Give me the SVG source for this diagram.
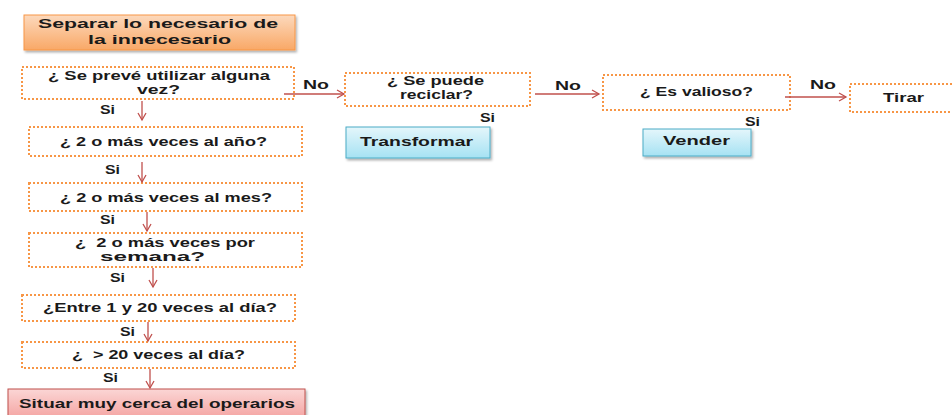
<svg xmlns="http://www.w3.org/2000/svg" width="952" height="415" viewBox="0 0 952 415">
<defs>
<linearGradient id="gOr" x1="0" y1="0" x2="0" y2="1"><stop offset="0" stop-color="#fcd9bd"/><stop offset="1" stop-color="#f9a866"/></linearGradient>
<linearGradient id="gBl" x1="0" y1="0" x2="0" y2="1"><stop offset="0" stop-color="#e4f6fb"/><stop offset="1" stop-color="#a6e2f3"/></linearGradient>
<linearGradient id="gPk" x1="0" y1="0" x2="0" y2="1"><stop offset="0" stop-color="#fbd6d5"/><stop offset="1" stop-color="#f4a3a1"/></linearGradient>
<marker id="ah" markerWidth="10" markerHeight="10" refX="8" refY="5" orient="auto" markerUnits="userSpaceOnUse"><path d="M1,1 L8,5 L1,9" fill="none" stroke="#c0504d" stroke-width="1.3"/></marker>
<filter id="sh" x="-5%" y="-10%" width="115%" height="130%"><feDropShadow dx="1.5" dy="2" stdDeviation="1.2" flood-color="#000" flood-opacity="0.3"/></filter>
</defs>
<style>
.q{fill:#fff;stroke:#f79646;stroke-width:2;stroke-dasharray:2 2}
.t{font-family:"Liberation Sans",Arial,sans-serif;font-weight:bold;font-size:13px;fill:#1a1a1a}
.t2{font-size:12px}
.pre{white-space:pre}
.l{font-family:"Liberation Sans",Arial,sans-serif;font-weight:bold;font-size:12px;fill:#1a1a1a}
.c{stroke:#c0504d;stroke-width:1.3;fill:none;marker-end:url(#ah)}
</style>
<rect width="952" height="415" fill="#fff"/>
<g id="n-title"><rect x="24" y="15" width="271" height="35" fill="url(#gOr)" stroke="#f79646" stroke-width="1" filter="url(#sh)"/><text class="t" style="font-size:13.5px" x="38" y="28" textLength="240" lengthAdjust="spacingAndGlyphs">Separar lo necesario de</text><text class="t" style="font-size:13.5px" x="88" y="44" textLength="143" lengthAdjust="spacingAndGlyphs">la innecesario</text></g>
<g id="n-preve"><rect class="q" x="22" y="67" width="272" height="32"/><text class="t t2" x="48" y="80" textLength="222" lengthAdjust="spacingAndGlyphs">¿ Se prevé utilizar alguna</text><text class="t t2" x="137" y="94" textLength="43" lengthAdjust="spacingAndGlyphs">vez?</text></g>
<g id="n-ano"><rect class="q" x="29" y="127" width="273" height="29"/><text class="t" x="60" y="146" textLength="207" lengthAdjust="spacingAndGlyphs">¿ 2 o más veces al año?</text></g>
<g id="n-mes"><rect class="q" x="29" y="183" width="273" height="28"/><text class="t" x="60" y="202" textLength="212" lengthAdjust="spacingAndGlyphs">¿ 2 o más veces al mes?</text></g>
<g id="n-semana"><rect class="q" x="29" y="233" width="273" height="34"/><text class="t t2 pre" x="75" y="247" textLength="180" lengthAdjust="spacingAndGlyphs">¿  2 o más veces por</text><text class="t t2" x="100" y="261" textLength="105" lengthAdjust="spacingAndGlyphs">semana?</text></g>
<g id="n-dia"><rect class="q" x="22" y="295" width="273" height="26"/><text class="t" x="43" y="312" textLength="234" lengthAdjust="spacingAndGlyphs">¿Entre 1 y 20 veces al día?</text></g>
<g id="n-mas20"><rect class="q" x="22" y="342" width="273" height="26"/><text class="t pre" x="72" y="359" textLength="173" lengthAdjust="spacingAndGlyphs">¿  &gt; 20 veces al día?</text></g>
<g id="n-situar"><rect x="8" y="389" width="297" height="30" fill="url(#gPk)" stroke="#c0504d" stroke-width="1" filter="url(#sh)"/><text class="t" x="19" y="408" textLength="276" lengthAdjust="spacingAndGlyphs">Situar muy cerca del operarios</text></g>
<g id="n-reciclar"><rect class="q" x="345" y="73" width="185" height="33"/><text class="t t2" x="387" y="85" textLength="97" lengthAdjust="spacingAndGlyphs">¿ Se puede</text><text class="t t2" x="400" y="99" textLength="73" lengthAdjust="spacingAndGlyphs">reciclar?</text></g>
<g id="n-valioso"><rect class="q" x="603" y="75" width="187" height="35"/><text class="t" x="640" y="96" textLength="113" lengthAdjust="spacingAndGlyphs">¿ Es valioso?</text></g>
<g id="n-tirar"><rect class="q" x="850" y="84" width="110" height="28"/><text class="t" x="883" y="102" textLength="41" lengthAdjust="spacingAndGlyphs">Tirar</text></g>
<g id="n-transformar"><rect x="346" y="127" width="144" height="31" fill="url(#gBl)" stroke="#4bacc6" stroke-width="1" filter="url(#sh)"/><text class="t" x="360" y="146" textLength="113" lengthAdjust="spacingAndGlyphs">Transformar</text></g>
<g id="n-vender"><rect x="643" y="129" width="108" height="27" fill="url(#gBl)" stroke="#4bacc6" stroke-width="1" filter="url(#sh)"/><text class="t" x="663" y="145" textLength="67" lengthAdjust="spacingAndGlyphs">Vender</text></g>
<g id="connectors">
<path class="c" d="M142,101 V120"/>
<path class="c" d="M142,162 V182"/>
<path class="c" d="M147,212 V231"/>
<path class="c" d="M153,268 V287"/>
<path class="c" d="M148,322 V341"/>
<path class="c" d="M150,369 V388"/>
<path class="c" d="M284,94 H344"/>
<path class="c" d="M535,94 H599"/>
<path class="c" d="M785,97 H846"/>
<text class="l" x="100" y="114" textLength="15" lengthAdjust="spacingAndGlyphs">Si</text>
<text class="l" x="105" y="174" textLength="15" lengthAdjust="spacingAndGlyphs">Si</text>
<text class="l" x="100" y="224" textLength="15" lengthAdjust="spacingAndGlyphs">Si</text>
<text class="l" x="110" y="282" textLength="15" lengthAdjust="spacingAndGlyphs">Si</text>
<text class="l" x="120" y="336" textLength="15" lengthAdjust="spacingAndGlyphs">Si</text>
<text class="l" x="103" y="382" textLength="15" lengthAdjust="spacingAndGlyphs">Si</text>
<text class="l" x="303" y="89" textLength="26" lengthAdjust="spacingAndGlyphs">No</text>
<text class="l" x="555" y="90" textLength="26" lengthAdjust="spacingAndGlyphs">No</text>
<text class="l" x="810" y="89" textLength="26" lengthAdjust="spacingAndGlyphs">No</text>
<text class="l" x="480" y="122" textLength="15" lengthAdjust="spacingAndGlyphs">Si</text>
<text class="l" x="745" y="126" textLength="15" lengthAdjust="spacingAndGlyphs">Si</text>
</g>
</svg>
